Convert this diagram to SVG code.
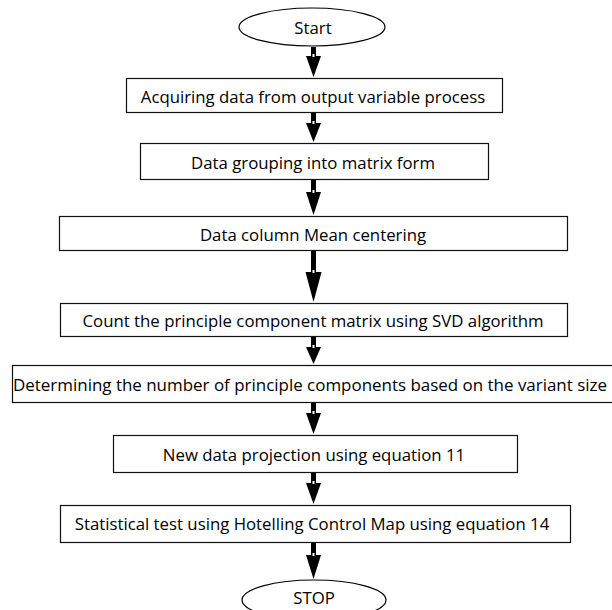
<svg xmlns="http://www.w3.org/2000/svg" width="612" height="610" viewBox="0 0 612 610">
<defs>
<style>
.box{fill:#fff;stroke:#111;stroke-width:1.2}
.term{fill:#fff;stroke:#000;stroke-width:1.2}
.t{font-family:"Open Sans","Liberation Sans",sans-serif;font-size:16.8px;fill:#000;text-anchor:middle;dominant-baseline:central}
.shaft{fill:#000}
.notch{fill:#fff}
</style>
</defs>
<rect width="612" height="610" fill="#fff"/>
<g id="connectors">
<rect class="shaft" x="311" y="47" width="5" height="10"/><polygon points="306,56 321,56 313.5,77"/><rect class="notch" x="312.5" y="54" width="2" height="3"/>
<rect class="shaft" x="311" y="113" width="5" height="11"/><polygon points="306,123 321,123 313.5,142"/><rect class="notch" x="312.5" y="121" width="2" height="3"/>
<rect class="shaft" x="311" y="180" width="5" height="13"/><polygon points="306,192 321,192 313.5,215"/><rect class="notch" x="312.5" y="190" width="2" height="3"/>
<rect class="shaft" x="311" y="251" width="5" height="22"/><polygon points="305.5,272 321.5,272 313.5,302"/><rect class="notch" x="312.5" y="270" width="2" height="3"/>
<rect class="shaft" x="311" y="337" width="5" height="11"/><polygon points="306,347 321,347 313.5,364"/><rect class="notch" x="312.5" y="345" width="2" height="3"/>
<rect class="shaft" x="311" y="402" width="5" height="12"/><polygon points="306,413 321,413 313.5,434"/><rect class="notch" x="312.5" y="411" width="2" height="3"/>
<rect class="shaft" x="311" y="473" width="5" height="11"/><polygon points="306,483 321,483 313.5,504"/><rect class="notch" x="312.5" y="481" width="2" height="3"/>
<rect class="shaft" x="311" y="543" width="5" height="13"/><polygon points="306,555 321,555 313.5,579"/><rect class="notch" x="312.5" y="553" width="2" height="3"/>
</g>
<g id="start"><ellipse class="term" cx="312" cy="27" rx="73" ry="19"/><text class="t" x="313" y="27">Start</text></g>
<g id="n1"><rect class="box" x="126.5" y="78.5" width="376" height="34"/><text class="t" x="313" y="96">Acquiring data from output variable process</text></g>
<g id="n2"><rect class="box" x="140.5" y="143.5" width="348" height="36"/><text class="t" x="313" y="162">Data grouping into matrix form</text></g>
<g id="n3"><rect class="box" x="59.5" y="216.5" width="508" height="34" stroke="#000" stroke-width="2"/><text class="t" x="313" y="234">Data column Mean centering</text></g>
<g id="n4"><rect class="box" x="60.5" y="303.5" width="507" height="33"/><text class="t" x="313" y="320">Count the principle component matrix using SVD algorithm</text></g>
<g id="n5"><rect class="box" x="12.5" y="365.5" width="610" height="37"/><text class="t" x="310" y="384" textLength="594" lengthAdjust="spacingAndGlyphs">Determining the number of principle components based on the variant size</text></g>
<g id="n6"><rect class="box" x="113.5" y="435.5" width="404" height="37"/><text class="t" x="314" y="454">New data projection using equation 11</text></g>
<g id="n7"><rect class="box" x="60.5" y="505.5" width="510" height="37"/><text class="t" x="312" y="523">Statistical test using Hotelling Control Map using equation 14</text></g>
<g id="stop"><ellipse class="term" cx="314" cy="600" rx="72" ry="20"/><text class="t" x="314" y="597">STOP</text></g>
</svg>
